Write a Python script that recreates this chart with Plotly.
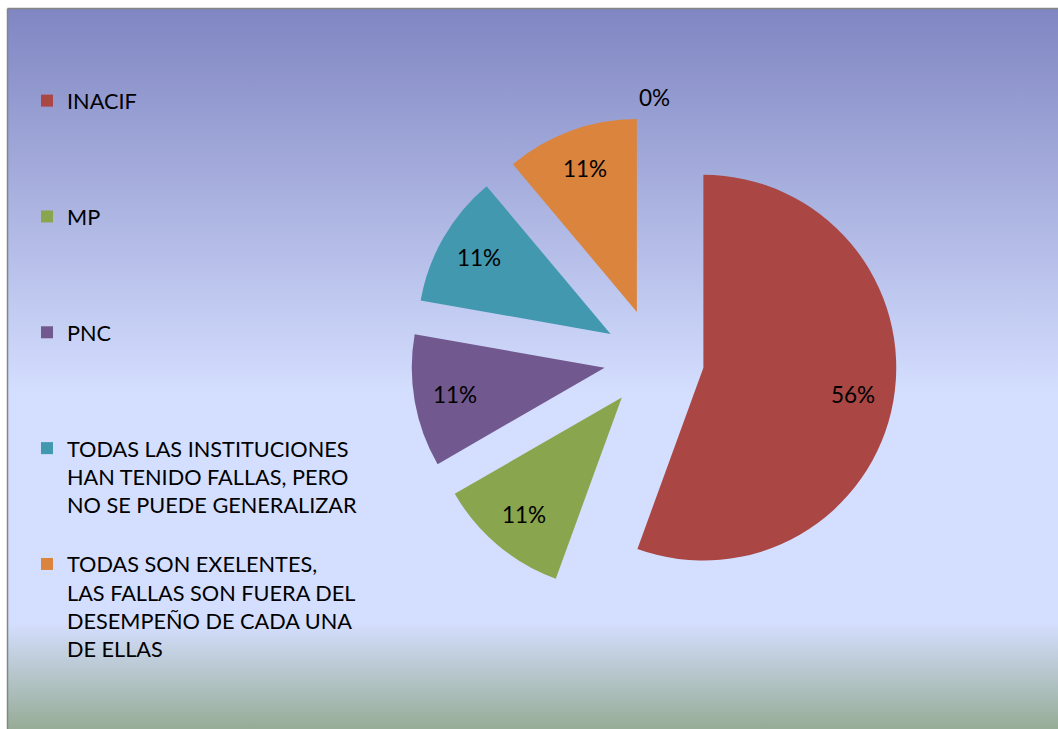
import base64
import math
import plotly.graph_objects as go

# ---- data ----
categories = [
    "INACIF",
    "MP",
    "PNC",
    "TODAS LAS INSTITUCIONES<br>HAN TENIDO FALLAS, PERO<br>NO SE PUEDE GENERALIZAR",
    "TODAS SON EXELENTES,<br>LAS FALLAS SON FUERA DEL<br>DESEMPEÑO DE CADA UNA<br>DE ELLAS",
]
values = [5, 1, 1, 1, 1]
extra_value = 0  # category shown only by its "0%" label
colors = ["#AA4744", "#89A54E", "#71588F", "#4198AF", "#DB843D"]

W, H = 1058, 729
FONT = "Lato"
FS_LEG = 21.7
FS_LBL = 22.5
PULL = 0.26
LABEL_R = 0.79  # label distance (fraction of radius) beyond the pull offset


def px(x):
    return x / W


def py(y):
    return 1 - y / H


# pad legend labels to 4 lines so entries are evenly spaced like the original
def pad(lbl, n=4):
    k = lbl.count("<br>") + 1
    return lbl + "<br>\u00a0" * (n - k)


legend_labels = [pad(c) for c in categories]

# pie domain (pixels)
cx, cy, box = 654, 359, 486
dom_x = [px(cx - box / 2), px(cx + box / 2)]
dom_y = [py(cy + box / 2), py(cy - box / 2)]
radius = box / 2 / (1 + PULL)

fig = go.Figure()
fig.add_trace(go.Pie(
    labels=legend_labels,
    values=values,
    marker=dict(colors=colors, line=dict(width=0)),
    sort=False,
    direction="clockwise",
    rotation=0,
    pull=[PULL] * len(values),
    textinfo="none",
    domain=dict(x=dom_x, y=dom_y),
    hoverinfo="label+percent",
))

# percentage labels placed along each slice's bisector
total = sum(values) + extra_value
cum = 0
for v in values:
    mid = (cum + v / 2) / total * 2 * math.pi
    cum += v
    d = (PULL + LABEL_R) * radius
    lx = cx + d * math.sin(mid)
    ly = cy - d * math.cos(mid)
    fig.add_annotation(
        x=px(lx), y=py(ly), xref="paper", yref="paper",
        xanchor="center", yanchor="middle",
        text=f"{v / total:.0%}", showarrow=False,
        font=dict(family=FONT, size=FS_LBL, color="black"),
    )

fig.add_annotation(
    x=px(cx), y=py(cy - box / 2 - 18), xref="paper", yref="paper",
    xanchor="center", yanchor="middle",
    text=f"{extra_value / total:.0%}", showarrow=False,
    font=dict(family=FONT, size=FS_LBL, color="black"),
)

# gradient background as an SVG image
svg = (
    "<svg xmlns='http://www.w3.org/2000/svg' width='100' height='100' viewBox='0 0 100 100' preserveAspectRatio='none'>"
    "<defs><linearGradient id='g' x1='0' y1='0' x2='0' y2='1'>"
    "<stop offset='0' stop-color='rgb(128,134,194)'/>"
    "<stop offset='0.533' stop-color='rgb(212,222,254)'/>"
    "<stop offset='0.853' stop-color='rgb(212,222,254)'/>"
    "<stop offset='1' stop-color='rgb(150,172,150)'/>"
    "</linearGradient></defs>"
    "<rect x='0' y='0' width='100' height='100' fill='url(#g)'/></svg>"
)
uri = "data:image/svg+xml;base64," + base64.b64encode(svg.encode()).decode()
fig.add_layout_image(
    source=uri, xref="paper", yref="paper",
    x=px(8), y=py(9), sizex=(W - 8) / W, sizey=(H - 9) / H,
    xanchor="left", yanchor="top", sizing="stretch", layer="below",
)

# chart border (left & top visible)
fig.add_shape(type="line", xref="paper", yref="paper",
              x0=px(7.5), x1=px(7.5), y0=0, y1=py(8.5),
              line=dict(color="#858585", width=1.5))
fig.add_shape(type="line", xref="paper", yref="paper",
              x0=px(7.5), x1=1, y0=py(8.5), y1=py(8.5),
              line=dict(color="#858585", width=1.5))

fig.update_layout(
    width=W, height=H,
    margin=dict(l=0, r=0, t=0, b=0),
    paper_bgcolor="white",
    plot_bgcolor="rgba(0,0,0,0)",
    showlegend=True,
    legend=dict(
        x=px(27), y=py(80), xanchor="left", yanchor="top",
        bgcolor="rgba(0,0,0,0)", borderwidth=0,
        font=dict(family=FONT, size=FS_LEG, color="black"),
        valign="top", traceorder="normal",
    ),
)

fig.write_html(
    "out.html",
    config={"displayModeBar": False},
    post_script="document.body.style.margin='0px';document.body.style.overflow='hidden';",
)
